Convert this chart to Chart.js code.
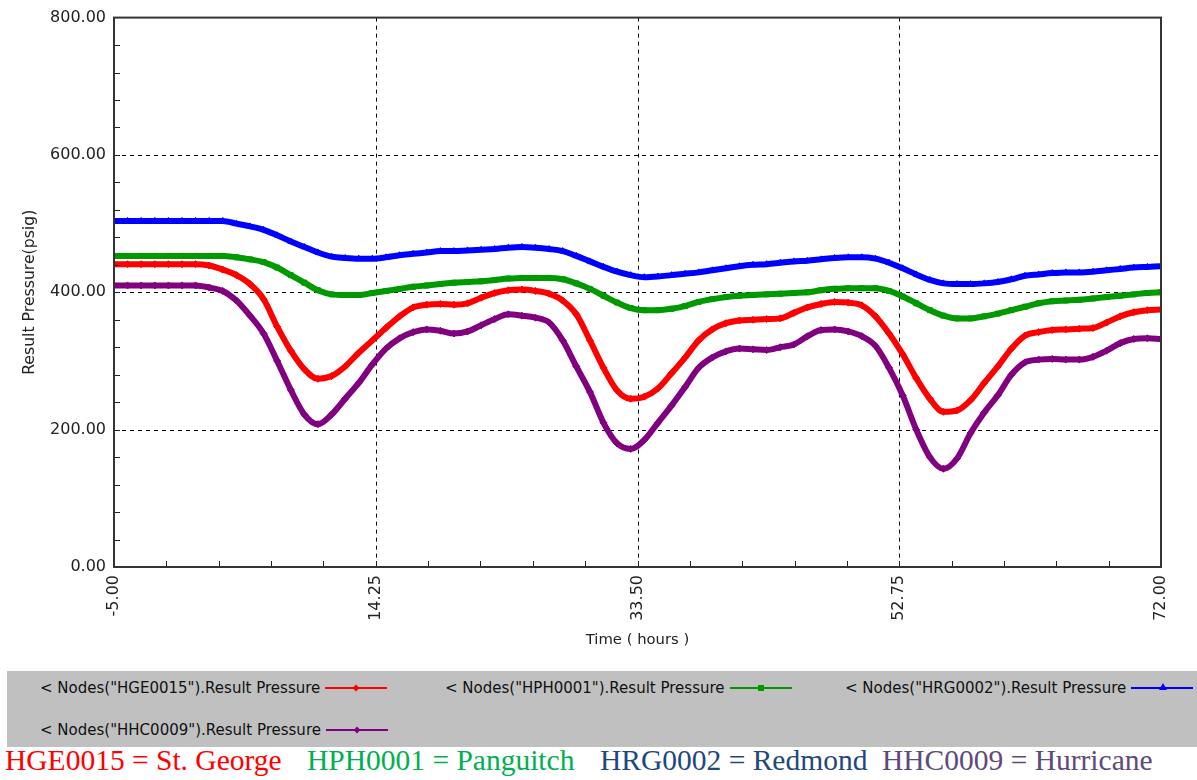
<!DOCTYPE html>
<html lang="en">
<head>
    <meta charset="UTF-8">
    <title>Result Pressure</title>
    <script src="https://cdn.jsdelivr.net/npm/chart.js@4.4.1/dist/chart.umd.min.js"></script>
    <style>
        body { margin: 0; background: #fff; width: 1197px; height: 780px; overflow: hidden; position: relative; }
        #chartBox { position: absolute; left: 0; top: 0; width: 1197px; height: 662px; }
        #legend { position: absolute; left: 7px; top: 671px; width: 1190px; height: 76px; background: #c0c0c0; }
        .item { position: absolute; display: flex; align-items: center; height: 16px; line-height: 16px;
                font: 15px "DejaVu Sans", sans-serif; color: #111; white-space: nowrap; }
        .sample { position: relative; display: inline-block; width: 62px; height: 2px; margin-left: 5px; }
        .mark { position: absolute; left: 28px; top: -2px; width: 6px; height: 6px; }
        .name { position: absolute; top: 746px; font: 29.5px "Liberation Serif", "Times New Roman", serif;
                line-height: 29.5px; white-space: nowrap; }
    </style>
</head>
<body>
<div id="chartBox"><canvas id="myChart"></canvas></div>
<div id="legend"></div>
<script>
    // time in hours
    const hours = [-5, -4, -3, -2, -1, 0, 1, 2, 3, 4, 5, 6, 7, 8, 9, 10, 11, 12, 13, 14, 15, 16, 17, 18, 19, 20,
        21, 22, 23, 24, 25, 26, 27, 28, 29, 30, 31, 32, 33, 34, 35, 36, 37, 38, 39, 40, 41, 42, 43, 44, 45, 46, 47,
        48, 49, 50, 51, 52, 53, 54, 55, 56, 57, 58, 59, 60, 61, 62, 63, 64, 65, 66, 67, 68, 69, 70, 71, 72];

    // HGE0015 (St. George)
    const stGeorge = [441, 441, 441, 441, 441, 441, 441, 439, 433, 425, 412, 390, 350, 315, 288, 274, 278, 292,
        312, 330, 348, 365, 378, 382, 383, 382, 384, 392, 399, 403, 404, 402, 398, 388, 368, 330, 290, 257, 245,
        248, 260, 282, 305, 330, 346, 355, 359, 360, 361, 362, 370, 378, 383, 386, 385, 381, 365, 340, 310, 275,
        245, 226, 228, 243, 268, 292, 318, 337, 342, 345, 346, 347, 348, 356, 365, 371, 374, 375];
    // HPH0001 (Panguitch)
    const panguitch = [453, 453, 453, 453, 453, 453, 453, 453, 453, 451, 448, 444, 436, 425, 414, 403, 397, 396,
        396, 399, 402, 405, 408, 410, 412, 414, 415, 416, 418, 420, 421, 421, 421, 419, 413, 405, 395, 385, 377,
        374, 374, 376, 380, 386, 390, 393, 395, 396, 397, 398, 399, 400, 403, 405, 406, 406, 406, 402, 394, 384,
        374, 366, 362, 362, 365, 369, 374, 379, 384, 387, 388, 389, 391, 393, 395, 397, 399, 400];
    // HRG0002 (Redmond)
    const redmond = [504, 504, 504, 504, 504, 504, 504, 504, 504, 500, 496, 491, 483, 474, 466, 458, 452, 450,
        449, 449, 451, 454, 456, 458, 460, 460, 461, 462, 463, 465, 466, 465, 463, 460, 453, 445, 437, 430, 425,
        422, 423, 425, 427, 429, 432, 435, 438, 440, 441, 443, 445, 446, 448, 450, 451, 451, 449, 443, 435, 426,
        418, 413, 412, 412, 413, 415, 419, 424, 426, 428, 429, 429, 430, 432, 434, 436, 437, 438];
    // HHC0009 (Hurricane)
    const hurricane = [410, 410, 410, 410, 410, 410, 410, 407, 402, 388, 366, 340, 300, 258, 222, 208, 222, 245,
        268, 295, 318, 333, 342, 346, 344, 340, 343, 352, 361, 368, 366, 363, 356, 330, 292, 255, 210, 180, 172,
        185, 210, 235, 262, 290, 305, 314, 318, 317, 316, 320, 324, 336, 345, 346, 343, 336, 322, 290, 250, 200,
        160, 143, 158, 195, 225, 250, 280, 298, 302, 303, 302, 302, 306, 315, 326, 332, 333, 332];

    const nodeIds = ['HGE0015', 'HPH0001', 'HRG0002', 'HHC0009'];
    const placeNames = ['St. George', 'Panguitch', 'Redmond', 'Hurricane'];
    const seriesValues = [stGeorge, panguitch, redmond, hurricane];
    const lineColors = ['#ff0000', '#009a00', '#0000ff', '#800080'];
    const nameColors = ['#ff0000', '#00b050', '#1f497d', '#604a7b'];
    const markers = ['rectRot', 'rect', 'triangle', 'rectRot'];

    const xTicks = [-5, 14.25, 33.5, 52.75, 72];
    const yTicks = [0, 200, 400, 600, 800];
    const xMinorStep = 3.85;
    const yMinorStep = 40;

    const tickFont = {family: '"DejaVu Sans", sans-serif', size: 16};

    // dashed grid, minor ticks and plot frame
    const framePlugin = {
        id: 'frame',
        beforeDatasetsDraw(chart) {
            const {ctx, chartArea: a, scales: {x, y}} = chart;
            ctx.save();
            ctx.strokeStyle = '#000';
            ctx.lineWidth = 1;
            ctx.setLineDash([4, 4]);
            ctx.beginPath();
            yTicks.slice(1, -1).forEach(v => {
                const py = Math.round(y.getPixelForValue(v)) + 0.5;
                ctx.moveTo(a.left, py);
                ctx.lineTo(a.right, py);
            });
            xTicks.slice(1, -1).forEach(v => {
                const px = Math.round(x.getPixelForValue(v)) + 0.5;
                ctx.moveTo(px, a.top);
                ctx.lineTo(px, a.bottom);
            });
            ctx.stroke();
            ctx.restore();
        },
        afterDatasetsDraw(chart) {
            const {ctx, chartArea: a, scales: {x, y}} = chart;
            ctx.save();
            ctx.strokeStyle = '#222';
            ctx.lineWidth = 1;
            ctx.beginPath();
            for (let v = yTicks[0] + yMinorStep; v < yTicks[yTicks.length - 1]; v += yMinorStep) {
                const py = Math.round(y.getPixelForValue(v)) + 0.5;
                ctx.moveTo(a.left, py);
                ctx.lineTo(a.left + 6, py);
            }
            for (let v = xTicks[0] + xMinorStep; v < xTicks[xTicks.length - 1] - 0.01; v += xMinorStep) {
                const px = Math.round(x.getPixelForValue(v)) + 0.5;
                ctx.moveTo(px, a.bottom);
                ctx.lineTo(px, a.bottom - 6);
            }
            ctx.stroke();
            ctx.lineWidth = 2;
            ctx.strokeStyle = '#333';
            ctx.strokeRect(a.left, a.top, a.right - a.left, a.bottom - a.top);
            ctx.restore();
        }
    };

    const datasets = seriesValues.map((vals, i) => ({
        label: '< Nodes("' + nodeIds[i] + '").Result Pressure',
        data: hours.map((h, j) => ({x: h, y: vals[j]})),
        borderColor: lineColors[i],
        backgroundColor: lineColors[i],
        borderWidth: 6,
        pointStyle: markers[i],
        pointRadius: 3.5,
        pointBorderWidth: 1,
        cubicInterpolationMode: 'monotone',
        fill: false
    }));

    const ctx = document.getElementById('myChart').getContext('2d');
    const myChart = new Chart(ctx, {
        type: 'line',
        data: {datasets: datasets},
        options: {
            responsive: true,
            maintainAspectRatio: false,
            animation: false,
            layout: {padding: {top: 13, right: 36, bottom: 0, left: 0}},
            plugins: {legend: {display: false}, tooltip: {enabled: false}},
            scales: {
                x: {
                    type: 'linear',
                    min: -5,
                    max: 72,
                    afterBuildTicks: s => { s.ticks = xTicks.map(v => ({value: v})); },
                    afterFit: s => { s.height = 95; },
                    grid: {display: false, drawTicks: false},
                    border: {display: false},
                    ticks: {
                        minRotation: 90,
                        maxRotation: 90,
                        padding: 8,
                        color: '#222',
                        font: tickFont,
                        callback: v => Number(v).toFixed(2)
                    },
                    title: {
                        display: true,
                        text: 'Time ( hours )',
                        color: '#222',
                        font: {family: '"DejaVu Sans", sans-serif', size: 14.8},
                        padding: {top: 0, bottom: 13}
                    }
                },
                y: {
                    min: 0,
                    max: 800,
                    afterBuildTicks: s => { s.ticks = yTicks.map(v => ({value: v})); },
                    afterFit: s => { s.width = 114; },
                    grid: {display: false, drawTicks: false},
                    border: {display: false},
                    ticks: {
                        padding: 8,
                        color: '#222',
                        font: tickFont,
                        callback: v => Number(v).toFixed(2)
                    },
                    title: {
                        display: true,
                        text: 'Result Pressure(psig)',
                        color: '#222',
                        font: {family: '"DejaVu Sans", sans-serif', size: 15.7},
                        padding: {top: 21, bottom: 0}
                    }
                }
            }
        },
        plugins: [framePlugin]
    });

    // legend box (text first, then line sample)
    const legendPos = [[33, 9], [438, 9], [838, 9], [33, 51]];
    const legend = document.getElementById('legend');
    datasets.forEach((d, i) => {
        const item = document.createElement('div');
        item.className = 'item';
        item.style.left = legendPos[i][0] + 'px';
        item.style.top = legendPos[i][1] + 'px';
        item.appendChild(document.createTextNode(d.label));
        const sample = document.createElement('span');
        sample.className = 'sample';
        sample.style.background = lineColors[i];
        const mark = document.createElement('span');
        mark.className = 'mark';
        if (markers[i] === 'triangle') {
            mark.style.width = '0';
            mark.style.height = '0';
            mark.style.top = '-4px';
            mark.style.borderLeft = '4px solid transparent';
            mark.style.borderRight = '4px solid transparent';
            mark.style.borderBottom = '7px solid ' + lineColors[i];
        } else {
            mark.style.background = lineColors[i];
            if (markers[i] === 'rectRot') mark.style.transform = 'rotate(45deg) scale(0.8)';
        }
        sample.appendChild(mark);
        item.appendChild(sample);
        legend.appendChild(item);
    });

    // node name key under the legend
    const nameLeft = [5, 307, 600, 882];
    nodeIds.forEach((id, i) => {
        const n = document.createElement('div');
        n.className = 'name';
        n.style.left = nameLeft[i] + 'px';
        n.style.color = nameColors[i];
        n.textContent = id + ' = ' + placeNames[i];
        document.body.appendChild(n);
    });
</script>
</body>
</html>
